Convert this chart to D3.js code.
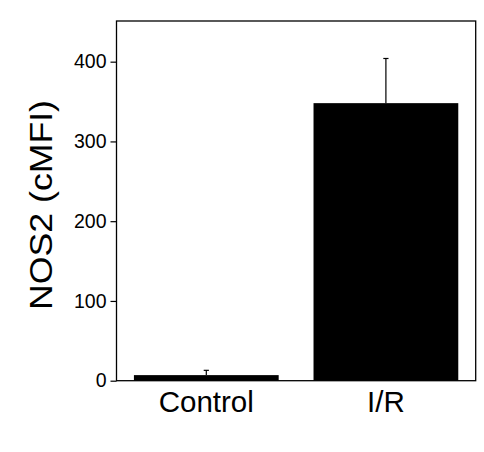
<!DOCTYPE html>
<html>
<head>
<meta charset="utf-8">
<script src="https://cdn.jsdelivr.net/npm/d3@7"></script>
<style>
  body { margin: 0; background: #fff; }
  svg { display: block; }
  text { font-family: "Liberation Sans", Arial, Helvetica, sans-serif; fill: #000; }
</style>
</head>
<body>
<svg id="chart" width="484" height="452"></svg>
<script>
const categories = ["Control", "I/R"];
const values = [7, 348];
const errors = [6, 56];
const yTicks = [0, 100, 200, 300, 400];
const yLabel = "NOS2 (cMFI)";

const svg = d3.select("#chart");
const plotLeft = 116.5, plotRight = 475.7, plotTop = 21, plotBottom = 380.7;

const x = d3.scaleBand().domain(categories).range([plotLeft, plotRight])
  .paddingInner(0.194).paddingOuter(0.097);
const y = d3.scaleLinear().domain([0, 451]).range([plotBottom, plotTop]);

// bars
svg.append("g").selectAll("rect").data(categories).join("rect")
  .attr("x", d => x(d))
  .attr("width", x.bandwidth())
  .attr("y", (d, i) => y(values[i]))
  .attr("height", (d, i) => y(0) - y(values[i]))
  .attr("fill", "#000");

// error bars (upper)
const eg = svg.append("g").attr("stroke", "#000").attr("stroke-width", 1.2);
categories.forEach((c, i) => {
  const cx = x(c) + x.bandwidth() / 2;
  eg.append("line").attr("x1", cx).attr("x2", cx)
    .attr("y1", y(values[i])).attr("y2", y(values[i] + errors[i]));
  eg.append("line").attr("x1", cx - 2.6).attr("x2", cx + 2.6)
    .attr("y1", y(values[i] + errors[i])).attr("y2", y(values[i] + errors[i]));
});

// frame
svg.append("rect").attr("x", plotLeft).attr("y", plotTop)
  .attr("width", plotRight - plotLeft).attr("height", plotBottom - plotTop)
  .attr("fill", "none").attr("stroke", "#000").attr("stroke-width", 1.3);

// y axis
const yAxis = d3.axisLeft(y).tickValues(yTicks).tickSize(6).tickPadding(4)
  .tickFormat(d3.format("d"));
const ga = svg.append("g").attr("transform", `translate(${plotLeft},0)`).call(yAxis);
ga.select(".domain").remove();
ga.selectAll("line").attr("stroke", "#000").attr("stroke-width", 1.2);
ga.selectAll("text").attr("font-size", 19.5)
  .style("font-family", "'Liberation Sans', Arial, Helvetica, sans-serif");

// x labels
svg.append("g").selectAll("text").data(categories).join("text")
  .attr("x", d => x(d) + x.bandwidth() / 2)
  .attr("y", 411.5)
  .attr("text-anchor", "middle")
  .attr("font-size", 29.5)
  .text(d => d);

// y label
svg.append("text")
  .attr("transform", "translate(51.7,205) rotate(-90)")
  .attr("text-anchor", "middle")
  .attr("font-size", 31)
  .attr("textLength", 210)
  .attr("lengthAdjust", "spacingAndGlyphs")
  .text(yLabel);
</script>
</body>
</html>
